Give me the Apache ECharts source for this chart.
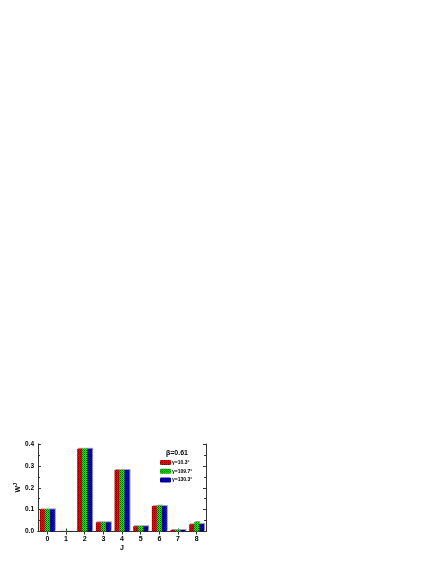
<!DOCTYPE html>
<html>
<head>
<meta charset="utf-8">
<script src="https://cdn.jsdelivr.net/npm/echarts@6/dist/echarts.min.js"></script>
<style>
  html, body { margin: 0; padding: 0; background: #fff; }
  #chart { width: 436px; height: 564px; }
</style>
</head>
<body>
<div id="chart"></div>
<script>
// values
const categories = ['0', '1', '2', '3', '4', '5', '6', '7', '8'];
const seriesNames = ['γ=10.3°', 'γ=109.7°', 'γ=130.3°'];
const gamma10 = [0.101, 0.001, 0.378, 0.042, 0.281, 0.024, 0.116, 0.007, 0.033];
const gamma109 = [0.101, 0.001, 0.378, 0.042, 0.281, 0.024, 0.118, 0.007, 0.043];
const gamma130 = [0.101, 0.001, 0.378, 0.042, 0.281, 0.024, 0.116, 0.007, 0.034];
const yTicks = [0.0, 0.1, 0.2, 0.3, 0.4];

// checkered fill like the origin hatch
function checker(c1, c2) {
  const cv = document.createElement('canvas');
  cv.width = 2; cv.height = 2;
  const ctx = cv.getContext('2d');
  ctx.fillStyle = c1; ctx.fillRect(0, 0, 2, 2);
  ctx.fillStyle = c2; ctx.fillRect(0, 0, 1, 1); ctx.fillRect(1, 1, 1, 1);
  return { image: cv, repeat: 'repeat' };
}
const fills = [
  checker('#ff0000', '#7a0000'),
  checker('#00ff00', '#006000'),
  checker('#0000e0', '#000060')
];

const font = 'Liberation Sans';
const chart = echarts.init(document.getElementById('chart'));

function barSeries(i, data) {
  return {
    name: seriesNames[i],
    type: 'bar',
    data: data,
    barGap: '0%',
    barCategoryGap: '20%',
    itemStyle: {
      color: fills[i],
      shadowColor: '#9a9a9a',
      shadowOffsetX: 1,
      shadowOffsetY: -1,
      shadowBlur: 0
    }
  };
}

const axisLine = { show: true, lineStyle: { color: '#333', width: 1 } };
const tick = { show: true, inside: true, length: 3, lineStyle: { color: '#333' } };

chart.setOption({
  animation: false,
  textStyle: { fontFamily: font },
  grid: { left: 38, right: 230, top: 444, bottom: 32.5, show: false },
  legend: {
    orient: 'vertical',
    left: 160,
    top: 460,
    itemWidth: 11,
    itemHeight: 5,
    itemGap: 3.7,
    padding: 0,
    textStyle: { fontSize: 5, fontWeight: 'bold', color: '#000', padding: [0, 0, 0, -4] },
    data: seriesNames
  },
  graphic: [{
    type: 'text',
    left: 166,
    top: 450,
    style: { text: 'β=0.61', font: 'bold 7px ' + font, fill: '#000' }
  }],
  xAxis: [{
    type: 'category',
    data: categories,
    name: 'J',
    nameLocation: 'middle',
    nameGap: 13,
    nameTextStyle: { fontSize: 7, fontWeight: 'bold', color: '#000' },
    axisLine: axisLine,
    axisTick: Object.assign({ alignWithLabel: true }, tick),
    axisLabel: { fontSize: 7, fontWeight: 'bold', color: '#000', margin: 4 }
  }, {
    type: 'category',
    data: categories,
    position: 'top',
    axisLine: axisLine,
    axisTick: Object.assign({ alignWithLabel: true }, tick),
    axisLabel: { show: false }
  }],
  yAxis: [{
    type: 'value',
    min: 0,
    max: 0.4,
    interval: 0.1,
    name: '{a|W}{b|J}',
    nameLocation: 'middle',
    nameRotate: 90,
    nameGap: 13,
    nameTextStyle: {
      rich: {
        a: { fontSize: 7, fontWeight: 'bold', color: '#000' },
        b: { fontSize: 5, fontWeight: 'bold', color: '#000', verticalAlign: 'top', padding: [0, 0, 4, 0] }
      }
    },
    axisLine: axisLine,
    axisTick: tick,
    minorTick: { show: true, splitNumber: 2, length: 2, lineStyle: { color: '#333' } },
    splitLine: { show: false },
    axisLabel: {
      fontSize: 6.5, fontWeight: 'bold', color: '#000', margin: 4,
      formatter: v => yTicks.includes(Math.round(v * 10) / 10) ? v.toFixed(1) : ''
    }
  }, {
    type: 'value',
    min: 0,
    max: 0.4,
    interval: 0.1,
    position: 'right',
    axisLine: axisLine,
    axisTick: tick,
    minorTick: { show: true, splitNumber: 2, length: 2, lineStyle: { color: '#333' } },
    splitLine: { show: false },
    axisLabel: { show: false }
  }],
  series: [
    barSeries(0, gamma10),
    barSeries(1, gamma109),
    barSeries(2, gamma130)
  ]
});
</script>
</body>
</html>
